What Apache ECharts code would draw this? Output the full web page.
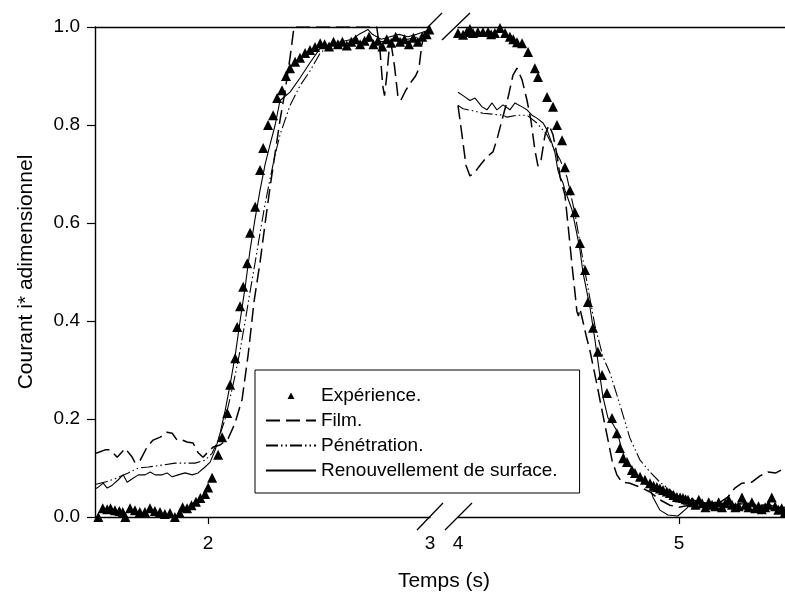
<!DOCTYPE html>
<html>
<head>
<meta charset="utf-8">
<script src="https://cdn.jsdelivr.net/npm/echarts@6/dist/echarts.min.js"></script>
<style>html,body{margin:0;padding:0;background:#fff}#c{width:785px;height:601px}</style>
</head>
<body>
<div id="c"></div>
<script>
// ---- data (t in s, i* dimensionless) ----
const yTicks = [0, 0.2, 0.4, 0.6, 0.8, 1.0];
const xLabelsLeft = [2, 3];
const xLabelsRight = [4, 5];
const xTicksLeft = [2];
const xTicksRight = [5];
const seriesNames = ['Expérience.', 'Film.', 'Pénétration.', 'Renouvellement de surface.'];

const experienceLeft = [[1.505,0.0],[1.525,0.018],[1.545,0.016],[1.56,0.018],[1.58,0.014],[1.6,0.012],[1.615,0.01],[1.627,0.0],[1.648,0.018],[1.67,0.014],[1.692,0.01],[1.715,0.01],[1.738,0.018],[1.76,0.012],[1.783,0.01],[1.805,0.006],[1.828,0.008],[1.85,0.0],[1.872,0.008],[1.885,0.02],[1.905,0.018],[1.925,0.024],[1.945,0.031],[1.965,0.039],[1.986,0.047],[2.0,0.06],[2.018,0.08],[2.045,0.127],[2.063,0.163],[2.086,0.212],[2.099,0.27],[2.122,0.324],[2.131,0.388],[2.144,0.43],[2.158,0.47],[2.176,0.518],[2.189,0.58],[2.212,0.633],[2.234,0.708],[2.248,0.753],[2.27,0.8],[2.293,0.82],[2.311,0.855],[2.333,0.871],[2.351,0.9],[2.369,0.916],[2.392,0.929],[2.414,0.937],[2.437,0.947],[2.459,0.953],[2.482,0.959],[2.505,0.967],[2.525,0.965],[2.545,0.96],[2.565,0.97],[2.585,0.965],[2.605,0.97],[2.625,0.962],[2.645,0.97],[2.665,0.975],[2.685,0.965],[2.705,0.972],[2.725,0.98],[2.745,0.965],[2.765,0.972],[2.785,0.96],[2.805,0.975],[2.825,0.968],[2.845,0.98],[2.865,0.97],[2.885,0.975],[2.905,0.965],[2.925,0.978],[2.945,0.97],[2.965,0.98],[2.985,0.985],[2.997,0.995]];
const experienceRight = [[4.0,0.988],[4.023,0.984],[4.04,0.99],[4.054,0.996],[4.068,0.988],[4.09,0.99],[4.113,0.99],[4.136,0.99],[4.15,0.985],[4.167,0.988],[4.19,0.998],[4.213,0.988],[4.235,0.98],[4.25,0.975],[4.267,0.969],[4.29,0.967],[4.317,0.949],[4.348,0.916],[4.362,0.898],[4.403,0.857],[4.43,0.837],[4.448,0.8],[4.471,0.769],[4.484,0.714],[4.507,0.667],[4.529,0.622],[4.552,0.559],[4.575,0.504],[4.588,0.439],[4.611,0.386],[4.633,0.337],[4.652,0.29],[4.674,0.253],[4.697,0.202],[4.719,0.171],[4.733,0.141],[4.747,0.12],[4.765,0.112],[4.787,0.096],[4.801,0.09],[4.824,0.082],[4.846,0.076],[4.869,0.069],[4.885,0.064],[4.9,0.061],[4.914,0.058],[4.928,0.055],[4.945,0.052],[4.959,0.049],[4.975,0.045],[4.991,0.041],[5.005,0.04],[5.018,0.039],[5.03,0.036],[5.041,0.035],[5.06,0.03],[5.075,0.025],[5.09,0.035],[5.105,0.028],[5.12,0.02],[5.135,0.03],[5.15,0.025],[5.165,0.022],[5.18,0.03],[5.195,0.02],[5.21,0.028],[5.225,0.035],[5.24,0.025],[5.255,0.02],[5.27,0.022],[5.285,0.04],[5.3,0.025],[5.315,0.02],[5.33,0.03],[5.345,0.018],[5.36,0.022],[5.375,0.016],[5.39,0.02],[5.405,0.025],[5.42,0.04],[5.435,0.022],[5.45,0.015],[5.465,0.018],[5.48,0.01]];

const filmLeft = [[1.495,0.13],[1.536,0.137],[1.559,0.137],[1.59,0.122],[1.626,0.14],[1.658,0.122],[1.671,0.11],[1.694,0.116],[1.725,0.143],[1.752,0.157],[1.784,0.163],[1.815,0.173],[1.838,0.171],[1.86,0.157],[1.883,0.157],[1.905,0.153],[1.932,0.151],[1.955,0.131],[1.977,0.122],[2.0,0.133],[2.023,0.143],[2.054,0.147],[2.09,0.16],[2.12,0.19],[2.153,0.24],[2.18,0.33],[2.207,0.44],[2.234,0.52],[2.257,0.6],[2.279,0.673],[2.302,0.743],[2.324,0.81],[2.347,0.87],[2.369,0.937],[2.387,1.0],[2.76,1.0],[2.775,0.95],[2.787,0.88],[2.795,0.86],[2.805,0.9],[2.815,0.95],[2.825,0.965],[2.84,0.92],[2.855,0.86],[2.868,0.85],[2.89,0.87],[2.91,0.885],[2.935,0.9],[2.95,0.915],[2.962,0.96],[2.975,0.99],[3.0,1.0]];
const filmRight = [[4.0,0.84],[4.018,0.78],[4.036,0.718],[4.054,0.696],[4.077,0.704],[4.1,0.718],[4.131,0.735],[4.158,0.745],[4.176,0.77],[4.199,0.81],[4.226,0.855],[4.249,0.902],[4.267,0.916],[4.29,0.892],[4.312,0.851],[4.33,0.81],[4.348,0.749],[4.362,0.716],[4.376,0.729],[4.394,0.78],[4.412,0.8],[4.43,0.78],[4.448,0.739],[4.462,0.694],[4.484,0.657],[4.498,0.596],[4.516,0.514],[4.529,0.46],[4.538,0.42],[4.545,0.41],[4.552,0.425],[4.565,0.4],[4.58,0.37],[4.597,0.34],[4.629,0.27],[4.656,0.208],[4.679,0.157],[4.697,0.116],[4.719,0.086],[4.742,0.071],[4.778,0.069],[4.824,0.061],[4.869,0.051],[4.914,0.035],[4.959,0.024],[5.0,0.02],[5.045,0.024],[5.095,0.028],[5.14,0.028],[5.186,0.03],[5.222,0.041],[5.253,0.059],[5.285,0.069],[5.33,0.071],[5.367,0.084],[5.403,0.092],[5.439,0.09],[5.48,0.1]];

const penetrationLeft = [[1.495,0.067],[1.54,0.072],[1.581,0.078],[1.64,0.09],[1.685,0.1],[1.73,0.102],[1.793,0.106],[1.851,0.11],[1.91,0.11],[1.941,0.11],[1.986,0.116],[2.018,0.13],[2.045,0.157],[2.077,0.2],[2.099,0.243],[2.122,0.29],[2.144,0.34],[2.167,0.4],[2.189,0.46],[2.212,0.52],[2.234,0.58],[2.257,0.64],[2.279,0.69],[2.302,0.74],[2.324,0.78],[2.369,0.84],[2.414,0.88],[2.459,0.91],[2.505,0.947],[2.55,0.962],[2.6,0.965],[2.65,0.968],[2.7,0.97],[2.75,0.972],[2.8,0.97],[2.85,0.975],[2.9,0.975],[2.95,0.98],[3.0,0.99]];
const penetrationRight = [[4.0,0.84],[4.023,0.833],[4.068,0.829],[4.113,0.824],[4.158,0.822],[4.204,0.82],[4.222,0.816],[4.267,0.82],[4.312,0.82],[4.357,0.804],[4.403,0.78],[4.43,0.755],[4.462,0.729],[4.493,0.694],[4.529,0.62],[4.575,0.5],[4.62,0.39],[4.656,0.327],[4.688,0.294],[4.733,0.229],[4.778,0.161],[4.824,0.116],[4.869,0.092],[4.914,0.071],[4.959,0.055],[5.0,0.041],[5.045,0.035],[5.1,0.03],[5.15,0.028],[5.2,0.027],[5.25,0.025],[5.3,0.027],[5.35,0.024],[5.4,0.025],[5.45,0.022],[5.48,0.02]];

const renouvLeft = [[1.495,0.058],[1.505,0.061],[1.527,0.069],[1.545,0.059],[1.568,0.065],[1.595,0.076],[1.617,0.086],[1.635,0.071],[1.658,0.078],[1.685,0.086],[1.716,0.086],[1.739,0.092],[1.761,0.086],[1.793,0.086],[1.815,0.09],[1.838,0.082],[1.865,0.086],[1.896,0.09],[1.928,0.086],[1.955,0.09],[1.986,0.102],[2.009,0.112],[2.032,0.137],[2.054,0.171],[2.077,0.218],[2.099,0.27],[2.122,0.33],[2.144,0.4],[2.167,0.47],[2.189,0.545],[2.212,0.61],[2.234,0.667],[2.257,0.72],[2.279,0.76],[2.302,0.8],[2.324,0.85],[2.369,0.867],[2.414,0.896],[2.459,0.927],[2.505,0.957],[2.55,0.965],[2.6,0.97],[2.65,0.975],[2.68,0.985],[2.7,0.99],[2.72,0.995],[2.74,0.985],[2.78,0.975],[2.82,0.98],[2.86,0.985],[2.9,0.98],[2.94,0.985],[2.97,0.99],[3.0,0.995]];
const renouvRight = [[4.0,0.867],[4.023,0.86],[4.054,0.85],[4.077,0.855],[4.109,0.837],[4.131,0.831],[4.154,0.845],[4.176,0.831],[4.204,0.841],[4.235,0.831],[4.258,0.845],[4.29,0.837],[4.312,0.831],[4.335,0.82],[4.357,0.814],[4.385,0.804],[4.403,0.79],[4.425,0.763],[4.439,0.743],[4.452,0.708],[4.462,0.694],[4.475,0.682],[4.484,0.667],[4.516,0.627],[4.541,0.571],[4.552,0.545],[4.566,0.498],[4.597,0.429],[4.62,0.361],[4.643,0.286],[4.656,0.245],[4.679,0.202],[4.701,0.19],[4.72,0.175],[4.74,0.14],[4.756,0.12],[4.787,0.1],[4.824,0.076],[4.869,0.061],[4.882,0.041],[4.914,0.014],[4.95,0.004],[4.995,0.002],[5.036,0.018],[5.059,0.039],[5.08,0.03],[5.12,0.025],[5.16,0.03],[5.2,0.028],[5.25,0.025],[5.3,0.03],[5.35,0.022],[5.4,0.025],[5.45,0.02],[5.48,0.02]];

// ---- chart ----
const FONT = '"Liberation Sans", Arial, Helvetica, sans-serif';
const chart = echarts.init(document.getElementById('c'), null, {renderer: 'canvas'});
const axisLineStyle = {color: '#000', width: 1.4};
const labelStyle = {color: '#000', fontSize: 19, fontFamily: FONT};

function bottomAxis(gi, min, max, labels, ticks) {
  return {
    type: 'value', gridIndex: gi, min: min, max: max, position: 'bottom',
    axisLine: {show: true, onZero: false, lineStyle: axisLineStyle},
    axisTick: {show: true, inside: false, length: 7, customValues: ticks, lineStyle: {color: '#000', width: 1.2}},
    axisLabel: {show: true, customValues: labels, margin: 17, showMinLabel: true, showMaxLabel: true, ...labelStyle},
    splitLine: {show: false}
  };
}
function topAxis(gi, min, max) {
  return {
    type: 'value', gridIndex: gi, min: min, max: max, position: 'top',
    axisLine: {show: true, onZero: false, lineStyle: axisLineStyle},
    axisTick: {show: false}, axisLabel: {show: false}, splitLine: {show: false}
  };
}
function lineSeries(name, data, idx, type, width) {
  return {
    name: name, type: 'line', xAxisIndex: idx, yAxisIndex: idx, data: data,
    symbol: 'none', showSymbol: false, smooth: false, clip: true,
    lineStyle: {color: '#000', width: width, type: type},
    itemStyle: {color: '#000'}, z: 3
  };
}
function scatterSeries(name, data, idx) {
  return {
    name: name, type: 'scatter', xAxisIndex: idx, yAxisIndex: idx, data: data,
    symbol: 'triangle', symbolSize: 10, itemStyle: {color: '#000', borderWidth: 0, opacity: 1}, clip: false, z: 4
  };
}
const filmDash = [14, 6];
const penDash = [12, 3, 1.5, 3, 1.5, 3];
// legend icon: small triangle centred in a 50x9 box (zero-area guide strokes set the box)
const LEGEND_TRIANGLE = 'path://M0,0L50,0M0,9L50,9M21.5,8L25,1.5L28.5,8Z';

const option = {
  animation: false,
  backgroundColor: '#fff',
  textStyle: {fontFamily: FONT, color: '#000'},
  grid: [
    {left: 95, right: 355, top: 27, bottom: 84},
    {left: 458, right: 0, top: 27, bottom: 84}
  ],
  xAxis: [
    bottomAxis(0, 1.49, 3, xLabelsLeft, xTicksLeft),
    bottomAxis(1, 4, 5.48, xLabelsRight, xTicksRight),
    topAxis(0, 1.49, 3),
    topAxis(1, 4, 5.48)
  ],
  yAxis: [
    {
      type: 'value', gridIndex: 0, min: 0, max: 1, interval: 0.2,
      axisLine: {show: true, onZero: false, lineStyle: axisLineStyle},
      axisTick: {show: true, inside: false, length: 8, customValues: yTicks, lineStyle: {color: '#000', width: 1.2}},
      axisLabel: {margin: 15, customValues: yTicks, formatter: v => v.toFixed(1), ...labelStyle},
      splitLine: {show: false},
      name: 'Courant i* adimensionnel', nameLocation: 'middle', nameGap: 58,
      nameTextStyle: {fontSize: 21, color: '#000', fontFamily: FONT}
    },
    {type: 'value', gridIndex: 1, min: 0, max: 1, show: false}
  ],
  legend: {
    orient: 'vertical', left: 255, top: 370,
    data: [
      {name: seriesNames[0], icon: LEGEND_TRIANGLE, itemStyle: {color: '#000', borderWidth: 0, opacity: 1}},
      {name: seriesNames[1], itemStyle: {opacity: 0}},
      {name: seriesNames[2], itemStyle: {opacity: 0}},
      {name: seriesNames[3], itemStyle: {opacity: 0}}
    ],
    itemWidth: 50, itemHeight: 9, itemGap: 6,
    padding: [16, 22, 13, 10],
    borderColor: '#000', borderWidth: 1, borderRadius: 0,
    backgroundColor: '#fff',
    textStyle: {fontSize: 19, lineHeight: 19, color: '#000', fontFamily: FONT},
    selectedMode: false
  },
  series: [
    lineSeries(seriesNames[1], filmLeft, 0, filmDash, 1.5),
    lineSeries(seriesNames[1], filmRight, 1, filmDash, 1.5),
    lineSeries(seriesNames[2], penetrationLeft, 0, penDash, 1.1),
    lineSeries(seriesNames[2], penetrationRight, 1, penDash, 1.1),
    lineSeries(seriesNames[3], renouvLeft, 0, 'solid', 1.1),
    lineSeries(seriesNames[3], renouvRight, 1, 'solid', 1.1),
    scatterSeries(seriesNames[0], experienceLeft, 0),
    scatterSeries(seriesNames[0], experienceRight, 1)
  ],
  graphic: [
    {type: 'line', shape: {x1: 417, y1: 530, x2: 443, y2: 503}, style: {stroke: '#000', lineWidth: 1.3}, z: 10},
    {type: 'line', shape: {x1: 445, y1: 530, x2: 472, y2: 503}, style: {stroke: '#000', lineWidth: 1.3}, z: 10},
    {type: 'line', shape: {x1: 427, y1: 28, x2: 442, y2: 13}, style: {stroke: '#000', lineWidth: 1.3}, z: 10},
    {type: 'line', shape: {x1: 442, y1: 40, x2: 470, y2: 13}, style: {stroke: '#000', lineWidth: 1.3}, z: 10},
    {type: 'text', x: 444, y: 581, style: {text: 'Temps (s)', fill: '#000', font: '21px ' + FONT, textAlign: 'center', textVerticalAlign: 'middle'}, z: 10}
  ]
};
chart.setOption(option);
</script>
</body>
</html>
